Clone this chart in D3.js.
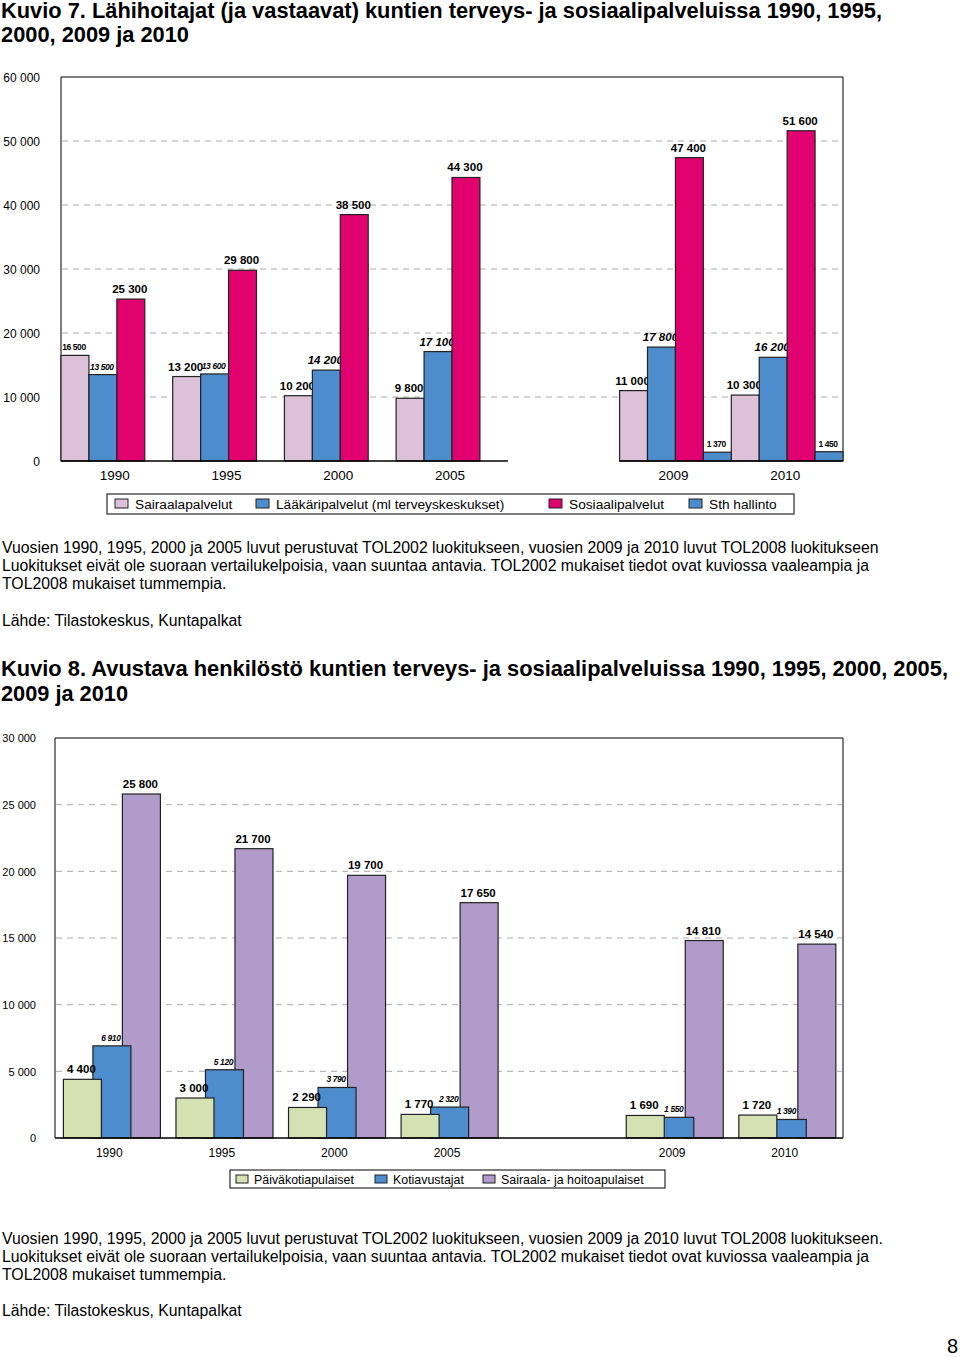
<!DOCTYPE html>
<html>
<head>
<meta charset="utf-8" />
<title>Kuvio 7 ja 8</title>
<style>
html, body{
    margin: 0px;
    padding: 0px;
    background: #fff;
}
svg text {
    font-family: "Liberation Sans", Arial, sans-serif;
    fill: #000;
}
.title {
    font-family: "Liberation Sans Narrow", "Liberation Sans", sans-serif;
    font-weight: bold;
    font-size: 21.5px;
}
.note { font-size: 15.8px; }
.grid { stroke: #aaa; stroke-dasharray: 6,5; stroke-width: 1; }
.frame { fill: none; stroke: #000; stroke-width: 1; }
.bar { stroke: #222; stroke-width: 1.2; }
</style>
</head>
<body>
<svg id="page" width="960" height="1357"></svg>

<script src="https://cdnjs.cloudflare.com/ajax/libs/d3/7.8.5/d3.min.js"></script>
<script>
!(function(){
    "use strict"

    // shared categories, "gap" is the empty slot between 2005 and 2009
    var years = ["1990", "1995", "2000", "2005", "gap", "2009", "2010"]

    // Kuvio 7
    var k7Series = ["Sairaalapalvelut", "Lääkäripalvelut (ml terveyskeskukset)", "Sosiaalipalvelut", "Sth hallinto"]
    var k7Sairaala = [16500, 13200, 10200, 9800, null, 11000, 10300]
    var k7Laakari  = [13500, 13600, 14200, 17100, null, 17800, 16200]
    var k7Sosiaali = [25300, 29800, 38500, 44300, null, 47400, 51600]
    var k7Sth      = [null, null, null, null, null, 1370, 1450]
    var k7Colors   = ["#dcc1d8", "#4d8dcd", "#e2026f", "#4d8dcd"]
    var k7Ticks    = [0, 10000, 20000, 30000, 40000, 50000, 60000]

    // Kuvio 8
    var k8Series = ["Päiväkotiapulaiset", "Kotiavustajat", "Sairaala- ja hoitoapulaiset"]
    var k8Paivakoti = [4400, 3000, 2290, 1770, null, 1690, 1720]
    var k8Koti      = [6910, 5120, 3790, 2320, null, 1550, 1390]
    var k8Sairaala  = [25800, 21700, 19700, 17650, null, 14810, 14540]
    var k8Colors    = ["#d5e0b3", "#4d8dcd", "#b19bca"]
    var k8Ticks     = [0, 5000, 10000, 15000, 20000, 25000, 30000]

    var svg = d3.select("#page")
    var fmt = function(v){ return d3.format(",")(v).replace(/,/g, "\u00a0") }

    // ----- titles and notes -----
    function lines(arr, x, y0, dy, cls, widths) {
        arr.forEach(function(t, i){
            var el = svg.append("text").attr("class", cls).attr("x", x).attr("y", y0 + i*dy).text(t)
            // fit titles to the width they have in the original
            if (widths) el.attr("textLength", widths[i]).attr("lengthAdjust", "spacingAndGlyphs")
        })
    }
    lines(["Kuvio 7. Lähihoitajat (ja vastaavat) kuntien terveys- ja sosiaalipalveluissa 1990, 1995,",
           "2000, 2009 ja 2010"], 1, 18, 24, "title", [881, 188])
    lines(["Kuvio 8. Avustava henkilöstö kuntien terveys- ja sosiaalipalveluissa 1990, 1995, 2000, 2005,",
           "2009 ja 2010"], 1, 676, 25, "title", [947, 127])

    lines(["Vuosien 1990, 1995, 2000 ja 2005 luvut perustuvat TOL2002 luokitukseen, vuosien 2009 ja 2010 luvut TOL2008 luokitukseen",
           "Luokitukset eivät ole suoraan vertailukelpoisia, vaan suuntaa antavia. TOL2002 mukaiset tiedot ovat kuviossa vaaleampia ja",
           "TOL2008 mukaiset tummempia."], 2, 553, 18, "note")
    lines(["Lähde: Tilastokeskus, Kuntapalkat"], 2, 626, 18, "note")

    lines(["Vuosien 1990, 1995, 2000 ja 2005 luvut perustuvat TOL2002 luokitukseen, vuosien 2009 ja 2010 luvut TOL2008 luokitukseen.",
           "Luokitukset eivät ole suoraan vertailukelpoisia, vaan suuntaa antavia. TOL2002 mukaiset tiedot ovat kuviossa vaaleampia ja",
           "TOL2008 mukaiset tummempia."], 2, 1244, 18, "note")
    lines(["Lähde: Tilastokeskus, Kuntapalkat"], 2, 1316, 18, "note")

    svg.append("text").attr("x", 958).attr("y", 1353).attr("text-anchor", "end")
        .style("font-size", "20px").text("8")

    // label styles
    var BIG = {size: 11.5, weight: "bold", style: "normal", dy: -6}
    var BIGI = {size: 11.5, weight: "bold", style: "italic", dy: -6}
    var SMALL = {size: 8.5, weight: "bold", style: "normal", dy: -5}
    var SMALLI = {size: 8.5, weight: "bold", style: "italic", dy: -5}

    // ----- Kuvio 7 -----
    var y7 = d3.scaleLinear().domain([0, 60000]).range([461, 77])
    var x7 = d3.scaleBand().domain(years).range([61, 843])
    var s7 = d3.scaleBand().domain(k7Series).range([0, x7.bandwidth()])

    var k7Values = [k7Sairaala, k7Laakari, k7Sosiaali, k7Sth]
    var k7Label = [
        [SMALL, BIG, BIG, BIG, null, BIG, BIG],
        [SMALLI, SMALLI, BIGI, BIGI, null, BIGI, BIGI],
        [BIG, BIG, BIG, BIG, null, BIG, BIG],
        [SMALL, SMALL, SMALL, SMALL, null, SMALL, SMALL]
    ]

    var g7 = svg.append("g")
    g7.selectAll(".grid").data(k7Ticks.slice(1, -1)).enter().append("line")
        .attr("class", "grid").attr("x1", 62).attr("x2", 842)
        .attr("y1", function(d){ return y7(d) }).attr("y2", function(d){ return y7(d) })
    g7.append("path").attr("class", "frame")
        .attr("d", "M" + x7.range()[0] + "," + y7(0) + "V" + y7(60000) + "H" + x7.range()[1] + "V" + y7(0))

    k7Series.forEach(function(s, si){
        years.forEach(function(yr, i){
            var v = k7Values[si][i]
            if (v == null) return
            var x = x7(yr) + s7(s)
            g7.append("rect").attr("class", "bar")
                .attr("x", x).attr("width", s7.bandwidth())
                .attr("y", y7(v)).attr("height", y7(0) - y7(v))
                .attr("fill", k7Colors[si])
            var st = k7Label[si][i]
            g7.append("text").attr("x", x + s7.bandwidth()/2 - 1).attr("y", y7(v) + st.dy)
                .attr("text-anchor", "middle")
                .style("font-size", st.size + "px").style("font-weight", st.weight)
                .style("font-style", st.style).style("letter-spacing", st.size < 10 ? "-0.4px" : "0px")
                .text(fmt(v))
        })
    })
    // baseline, broken at the empty slot
    years.forEach(function(yr){
        if (yr === "gap") return
        g7.append("line").attr("stroke", "#000").attr("stroke-width", 1.5)
            .attr("x1", x7(yr)).attr("x2", x7(yr) + x7.bandwidth())
            .attr("y1", y7(0)).attr("y2", y7(0))
    })

    g7.append("g").attr("transform", "translate(40,0)")
        .call(d3.axisLeft(y7).tickValues(k7Ticks).tickSize(0).tickPadding(0).tickFormat(fmt))
        .call(function(g){ g.select(".domain").remove() })
        .selectAll("text").style("font-size", "12px").style("font-family", "Liberation Sans, Arial, sans-serif").attr("dy", "0.35em")

    g7.append("g").attr("transform", "translate(-2," + (y7(0) + 10) + ")")
        .call(d3.axisBottom(x7).tickSize(0).tickPadding(0).tickFormat(function(d){ return d === "gap" ? "" : d }))
        .call(function(g){ g.select(".domain").remove() })
        .selectAll("text").style("font-size", "13.5px").style("font-family", "Liberation Sans, Arial, sans-serif").attr("dy", "0.7em")

    // legend 7
    var leg7 = svg.append("g").attr("transform", "translate(107,494)")
    leg7.append("rect").attr("width", 687).attr("height", 20).attr("fill", "none").attr("stroke", "#000")
    var leg7x = [8, 149, 442, 582]
    k7Series.forEach(function(s, i){
        leg7.append("rect").attr("x", leg7x[i]).attr("y", 5).attr("width", 13).attr("height", 9)
            .attr("fill", k7Colors[i]).attr("stroke", "#222")
        leg7.append("text").attr("x", leg7x[i] + 20).attr("y", 15).style("font-size", "13.7px")
            .text(s)
    })

    // ----- Kuvio 8 -----
    var y8 = d3.scaleLinear().domain([0, 30000]).range([1138, 738])
    var x8 = d3.scaleBand().domain(years).range([55, 843])
    var s8 = d3.scalePoint().domain(k8Series).range([8.4, 67.4])
    var w8 = 38

    var k8Values = [k8Paivakoti, k8Koti, k8Sairaala]
    var k8Label = [BIG, SMALLI, BIG]

    var g8 = svg.append("g")
    g8.selectAll(".grid").data(k8Ticks.slice(1, -1)).enter().append("line")
        .attr("class", "grid").attr("x1", 56).attr("x2", 842)
        .attr("y1", function(d){ return y8(d) }).attr("y2", function(d){ return y8(d) })
    g8.append("path").attr("class", "frame")
        .attr("d", "M" + x8.range()[0] + "," + y8(0) + "V" + y8(30000) + "H" + x8.range()[1] + "V" + y8(0))

    // back series first so the front ones overlap them
    for (var si = k8Series.length - 1; si >= 0; si--) {
        years.forEach(function(yr, i){
            var v = k8Values[si][i]
            if (v == null) return
            g8.append("rect").attr("class", "bar")
                .attr("x", x8(yr) + s8(k8Series[si])).attr("width", w8)
                .attr("y", y8(v)).attr("height", y8(0) - y8(v))
                .attr("fill", k8Colors[si])
        })
    }
    k8Series.forEach(function(s, si){
        years.forEach(function(yr, i){
            var v = k8Values[si][i]
            if (v == null) return
            var st = k8Label[si]
            g8.append("text").attr("x", x8(yr) + s8(s) + w8/2 - 1).attr("y", y8(v) + st.dy)
                .attr("text-anchor", "middle")
                .style("font-size", st.size + "px").style("font-weight", st.weight)
                .style("font-style", st.style).style("letter-spacing", st.size < 10 ? "-0.4px" : "0px")
                .text(fmt(v))
        })
    })
    g8.append("line").attr("stroke", "#000").attr("stroke-width", 1.5)
        .attr("x1", x8.range()[0]).attr("x2", x8.range()[1])
        .attr("y1", y8(0)).attr("y2", y8(0))

    g8.append("g").attr("transform", "translate(36,0)")
        .call(d3.axisLeft(y8).tickValues(k8Ticks).tickSize(0).tickPadding(0).tickFormat(fmt))
        .call(function(g){ g.select(".domain").remove() })
        .selectAll("text").style("font-size", "11px").style("font-family", "Liberation Sans, Arial, sans-serif").attr("dy", "0.35em")

    g8.append("g").attr("transform", "translate(-2," + (y8(0) + 11) + ")")
        .call(d3.axisBottom(x8).tickSize(0).tickPadding(0).tickFormat(function(d){ return d === "gap" ? "" : d }))
        .call(function(g){ g.select(".domain").remove() })
        .selectAll("text").style("font-size", "12px").style("font-family", "Liberation Sans, Arial, sans-serif").attr("dy", "0.7em")

    // legend 8
    var leg8 = svg.append("g").attr("transform", "translate(230,1170)")
    leg8.append("rect").attr("width", 435).attr("height", 18).attr("fill", "none").attr("stroke", "#000")
    var leg8x = [6, 145, 253]
    k8Series.forEach(function(s, i){
        leg8.append("rect").attr("x", leg8x[i]).attr("y", 5).attr("width", 12).attr("height", 8)
            .attr("fill", k8Colors[i]).attr("stroke", "#222")
        leg8.append("text").attr("x", leg8x[i] + 18).attr("y", 14).style("font-size", "12.4px")
            .text(s)
    })
}());
</script>
</body>
</html>
